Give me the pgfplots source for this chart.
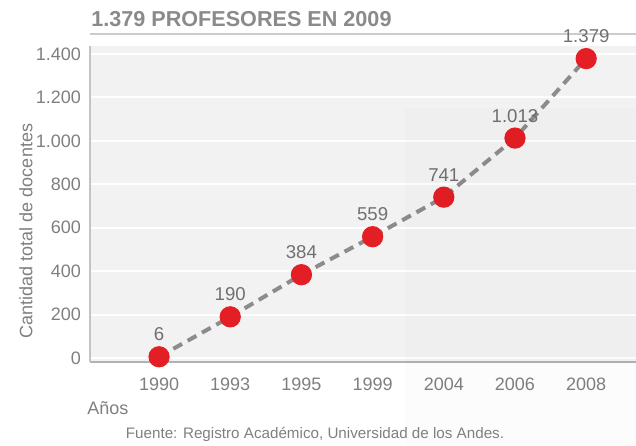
\documentclass[border=0pt]{standalone}
\usepackage{pgfplots}
\pgfplotsset{compat=1.18}
\usepackage{fontspec}
\setmainfont{Liberation Sans}
\definecolor{bgplot}{HTML}{F2F2F2}
\definecolor{txtgray}{HTML}{7F7F7F}
\definecolor{lblgray}{HTML}{707070}
\definecolor{ttlgray}{HTML}{8A8A8A}
\definecolor{linegray}{HTML}{8C8C8C}
\definecolor{dotred}{HTML}{E31E24}
\definecolor{axgray}{HTML}{C4C4C4}
\begin{document}
\begin{tikzpicture}[x=0.5pt,y=-0.5pt]
\useasboundingbox (0,0) rectangle (636,445);
% title
\node[anchor=west,inner sep=0pt,text=ttlgray,font=\fontsize{10.8}{12}\selectfont\bfseries] at (91,19) {1.379 PROFESORES EN 2009};
\draw[color=black!20,line width=0.7pt] (90,34) -- (636,34);
\begin{axis}[
  at={(45pt,-23pt)}, anchor=north west,
  scale only axis, width=273pt, height=158pt,
  xmin=-0.97, xmax=6.70,
  ymin=-18, ymax=1437,
  axis background/.style={fill=bgplot},
  axis x line=bottom, axis y line=left,
  axis line style={-, draw=axgray, line width=0.8pt},
  x axis line style={draw=black!30},
  xtick={0,...,6},
  xticklabels={1990,1993,1995,1999,2004,2006,2008},
  ytick={0,200,...,1400},
  ymajorgrids, grid style={white, line width=1pt},
  major tick length=0pt,
  tick label style={text=txtgray, font=\fontsize{9}{10}\selectfont},
  xticklabel style={yshift=-4.5pt},
  yticklabel style={xshift=-1pt},
  /pgf/number format/.cd, 1000 sep={.}, assume math mode=true,
  /pgfplots/.cd,
  clip=false,
  nodes near coords,
  point meta=explicit symbolic,
  every node near coord/.append style={text=lblgray, font=\fontsize{9.3}{10}\selectfont, anchor=south, yshift=3.5pt},
]
\addplot[linegray, line width=2pt, dash pattern=on 5pt off 3.2pt,
  mark=*, mark size=4.3pt, mark options={solid, fill=dotred, draw=dotred}]
  table[meta=lab] {
x y lab
0 6 6
1 190 190
2 384 384
3 559 559
4 741 741
5 1013 1.013
6 1379 1.379
};
\end{axis}
\fill[black, opacity=0.012] (405,108) rectangle (636,445);
% labels
\node[rotate=90,inner sep=0pt,text=txtgray,font=\fontsize{9}{10}\selectfont] at (26,231) {Cantidad total de docentes};
\node[anchor=west,inner sep=0pt,text=txtgray,font=\fontsize{9}{10}\selectfont] at (87,408) {Años};
\node[inner sep=0pt,text=txtgray,font=\fontsize{7.6}{9}\selectfont] at (315,434) {Fuente: Registro Académico, Universidad de los Andes.};
\end{tikzpicture}
\end{document}
